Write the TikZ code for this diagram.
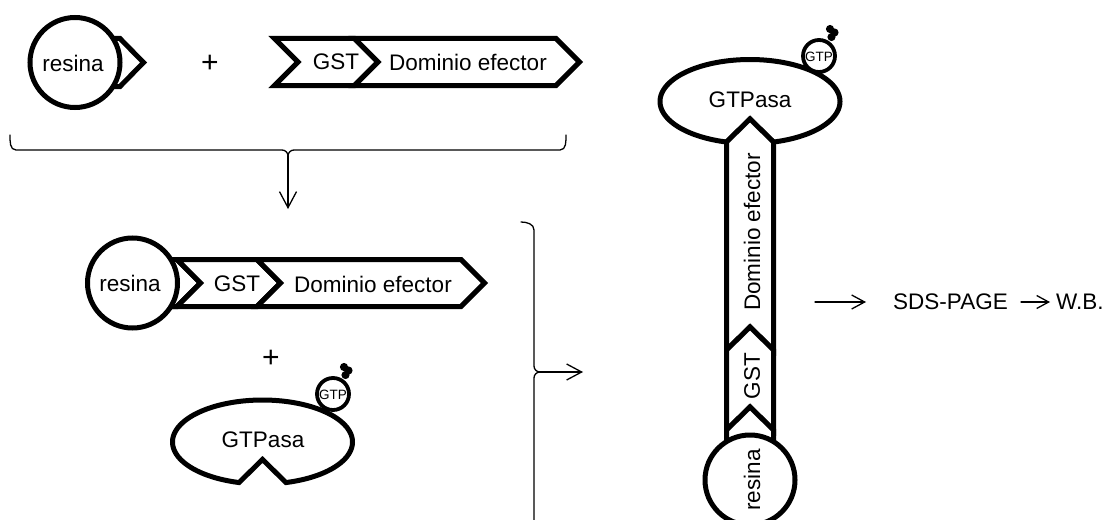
\documentclass[tikz,border=0pt]{standalone}
\usepackage{fontspec}
\setmainfont{Liberation Sans}
\usetikzlibrary{arrows.meta}
\begin{document}
\begin{tikzpicture}[x=1pt,y=-1pt,
  outline/.style={line width=5pt, line join=miter, fill=white},
  gtpline/.style={line width=3.8pt, fill=white},
  lbl/.style={font=\fontsize{22.5}{26}\selectfont, inner sep=0pt},
  smalllbl/.style={font=\fontsize{13.5}{16}\selectfont, inner sep=0pt},
  pluslbl/.style={font=\fontsize{30}{32}\selectfont, inner sep=0pt},
  thinline/.style={line width=1.3pt, line cap=round},
  barb/.style={thinline, -{Straight Barb[length=#1, width=#1+1]}},
  barb/.default=15,
  gtpase/.pic={
    \draw[outline] plot[domain=105.14:434.86, samples=160] ({90*cos(\x)},{42*sin(\x)})
      -- (0,17.5) -- cycle;
  },
  phosphates/.pic={
    \foreach \px/\py in {11/-27, 15.5/-23.5, 12.5/-19}
      \draw[line width=2pt, fill=black] (\px,\py) circle (3);
  }
]
\useasboundingbox (0,0) rectangle (1110,519);

% ---------- resin and fusion protein, separate ----------
\draw[outline] (105,38.5) -- (120,38.5) -- (143.5,62.5) -- (120,86.5) -- (105,86.5);
\draw[outline] (75,62.5) circle (45);
\node[lbl] (res1) at (73,63) {resina};

\node[pluslbl] (plus1) at (210,64) {+};

\draw[outline] (274.5,38.5) -- (354.5,38.5) -- (378,62) -- (354.5,85.5) -- (274.5,85.5) -- (298,62) -- cycle;
\draw[outline] (354.5,38.5) -- (556,38.5) -- (579.5,62) -- (556,85.5) -- (354.5,85.5) -- (378,62) -- cycle;
\node[lbl] (gst1) at (336,62) {GST};
\node[lbl] (dom1) at (468,62) {Dominio efector};

% ---------- bracket gathering the first step ----------
\coordinate (b1) at (288,156);
\coordinate (b1end) at (288,209);
\draw[thinline] (10,135) to[out=-90,in=180] (16,150) -- (282,150) to[out=0,in=90] (b1);
\draw[thinline] (566,135) to[out=-90,in=0] (560,150) -- (294,150) to[out=180,in=90] (b1);
\draw[barb=16] (b1) -- (b1end);

% ---------- bound fusion protein plus GTPase ----------
\draw[outline] (165,259.5) -- (177,259.5) -- (200.5,283) -- (177,306.5) -- (165,306.5);
\draw[outline] (132.5,283) circle (45);
\draw[outline] (177,259.5) -- (257,259.5) -- (280.5,283) -- (257,306.5) -- (177,306.5) -- (200.5,283) -- cycle;
\draw[outline] (257,259.5) -- (461,259.5) -- (484.5,283) -- (461,306.5) -- (257,306.5) -- (280.5,283) -- cycle;
\node[lbl] (res2) at (130,283) {resina};
\node[lbl] (gst2) at (237,284) {GST};
\node[lbl] (dom2) at (373,284) {Dominio efector};

\node[pluslbl] (plus2) at (271,359) {+};

\pic at (262.5,442) {gtpase};
\node[lbl] (gtpasa2) at (263,440) {GTPasa};
\draw[gtpline] (333,394) circle (16);
\pic at (333,394) {phosphates};
\node[smalllbl] (gtp2) at (333,395) {GTP};

% ---------- bracket gathering the second step ----------
\coordinate (b2) at (540,372);
\coordinate (b2end) at (583,372);
\draw[thinline] (521,222) to[out=0,in=90] (534,230) -- (534,366) to[out=-90,in=180] (b2);
\draw[thinline] (534,530) -- (534,378) to[out=90,in=180] (b2);
\draw[barb=15] (b2) -- (b2end);

% ---------- assembled complex ----------
\pic at (750,101.5) {gtpase};
\node[lbl] (gtpasa3) at (750,100) {GTPasa};
\draw[gtpline] (819,56) circle (16);
\pic at (819,56) {phosphates};
\node[smalllbl] (gtp3) at (819,57) {GTP};

\draw[outline] (726.5,350) -- (726.5,142) -- (750,119) -- (773.5,142) -- (773.5,350) -- (750,327) -- cycle;
\draw[outline] (726.5,430) -- (726.5,350) -- (750,327) -- (773.5,350) -- (773.5,430) -- (750,407) -- cycle;
\draw[outline] (726.5,447) -- (726.5,430) -- (750,407) -- (773.5,430) -- (773.5,447);
\draw[outline] (750,480) circle (45);
\node[lbl, rotate=90] (dom3) at (752,232) {Dominio efector};
\node[lbl, rotate=90] (gst3) at (752,376) {GST};
\node[lbl, rotate=90] (res3) at (752,480) {resina};

% ---------- analysis ----------
\coordinate (a1) at (815,302);
\node[lbl, anchor=west] (sds) at (893,302) {SDS-PAGE};
\node[lbl, anchor=west] (wb) at (1056,302) {W.B.};
\draw[barb=13] (a1) -- ++(51,0);
\draw[barb=12] ([xshift=13pt]sds.east) -- ([xshift=-6pt]wb.west);
\end{tikzpicture}
\end{document}
